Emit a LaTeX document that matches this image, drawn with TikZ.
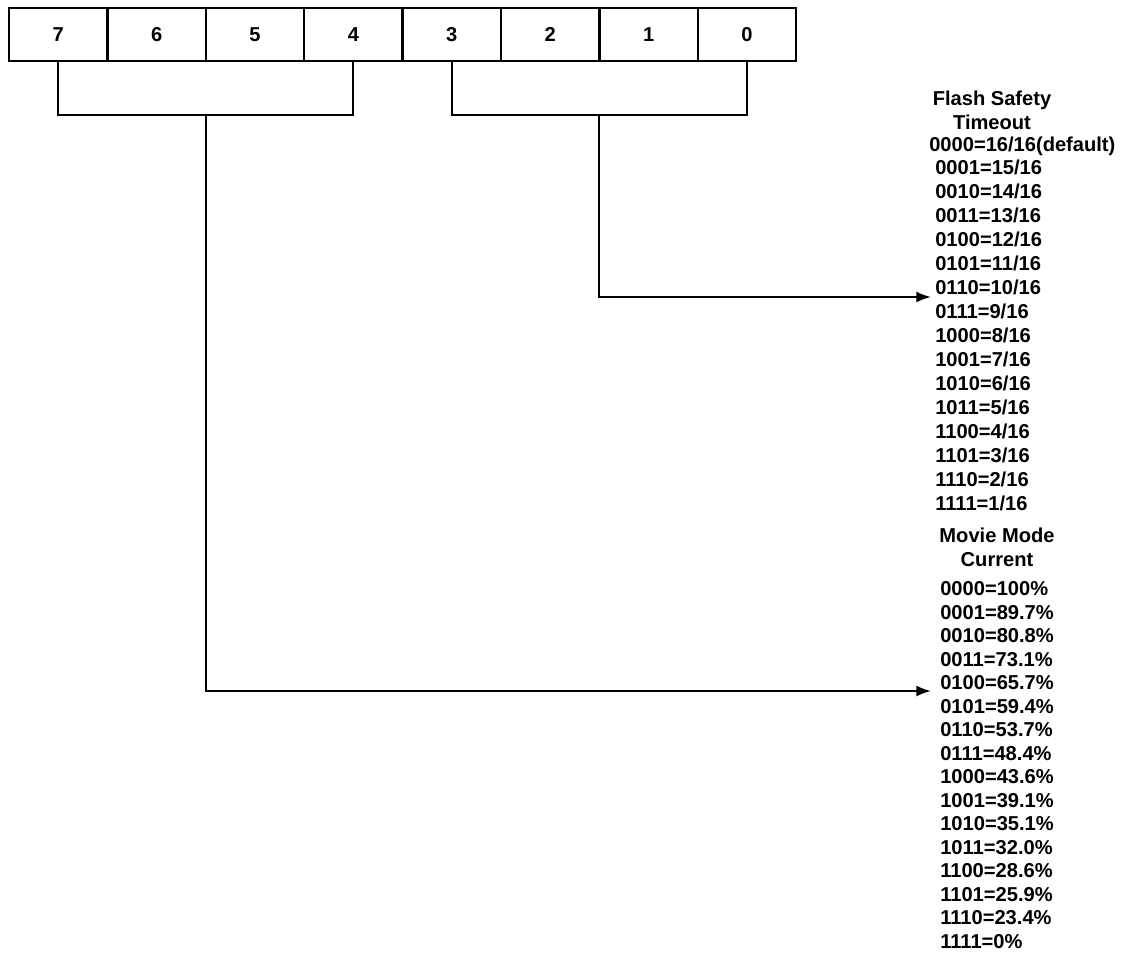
\documentclass[tikz,border=0pt]{standalone}
\usepackage{fontspec}
\setmainfont{Liberation Sans}
\usetikzlibrary{calc,arrows.meta}

\tikzset{
  bit/.style={draw, line width=1.6pt, minimum width=2.46cm, minimum height=1.325cm,
    inner sep=0, outer sep=0, font=\fontsize{14.3}{17}\selectfont\bfseries},
  val/.style={anchor=west, inner sep=0, font=\fontsize{14.3}{17}\selectfont\bfseries},
  head/.style={align=center, inner sep=0, font=\fontsize{14.3}{17}\selectfont\bfseries},
  wire/.style={line width=1.5pt},
  feed/.style={line width=1.5pt, -{Latex[length=10.5pt,width=8pt]}}
}

\begin{document}
\begin{tikzpicture}[x=0.025cm, y=-0.025cm]
\useasboundingbox (0,0) rectangle (1122,953);

% register bits
\foreach \b [count=\i from 0] in {7,6,5,4,3,2,1,0}
  \node[bit] (b\b) at ({58.2+98.4*\i}, 34.5) {\b};

% brackets
\draw[wire] (b7.south) -- ++(0,54) -| (b4.south);
\draw[wire] (b3.south) -- ++(0,54) -| (b0.south);
\coordinate (ls) at ($(b6.south east)+(0,54)$);
\coordinate (rs) at ($(b2.south east)+(0,54)$);

% flash safety timeout
\node[head] (fsh) at (992, 110) {Flash Safety\\Timeout};
\node[val] (fs0) at (929, 146) {0000=16/16(default)};
\foreach \t [count=\i from 1] in {0001=15/16, 0010=14/16, 0011=13/16, 0100=12/16,
    0101=11/16, 0110=10/16, 0111=9/16, 1000=8/16, 1001=7/16, 1010=6/16,
    1011=5/16, 1100=4/16, 1101=3/16, 1110=2/16, 1111=1/16}
  \node[val] (fs\i) at (935, {167+24*(\i-1)}) {\t};

% movie mode current
\node[head] (mmh) at (997, 547) {Movie Mode\\Current};
\foreach \t [count=\i from 0] in {0000=100\%, 0001=89.7\%, 0010=80.8\%, 0011=73.1\%,
    0100=65.7\%, 0101=59.4\%, 0110=53.7\%, 0111=48.4\%, 1000=43.6\%, 1001=39.1\%,
    1010=35.1\%, 1011=32.0\%, 1100=28.6\%, 1101=25.9\%, 1110=23.4\%, 1111=0\%}
  \node[val] (mm\i) at (940, {589+23.5*\i}) {\t};

% connectors
\coordinate (fsin) at (931, 297);
\coordinate (mmin) at (931, 691);
\draw[feed] (rs) |- (fsin);
\draw[feed] (ls) |- (mmin);
\end{tikzpicture}
\end{document}
